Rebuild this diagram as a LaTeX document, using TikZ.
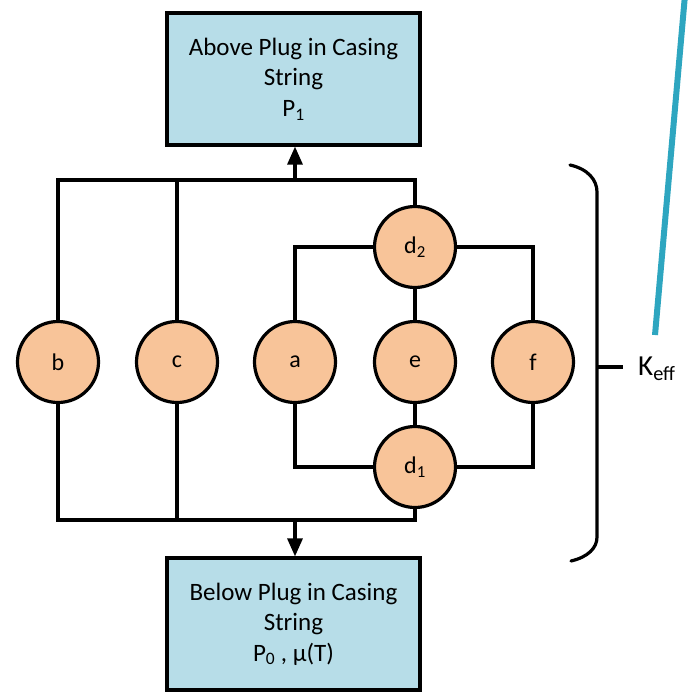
\documentclass[tikz,border=0pt]{standalone}
\usepackage{fontspec}
\setmainfont{Carlito}
\usetikzlibrary{arrows.meta}
\definecolor{boxblue}{HTML}{B7DDE8}
\definecolor{peach}{HTML}{F8C499}
\definecolor{teal1}{HTML}{2EA6C0}
\begin{document}
\begin{tikzpicture}[x=1pt,y=-1pt,
  wire/.style={line width=3.2pt,line join=miter},
  flow/.style={wire,-{Triangle[length=18pt,width=15pt]}},
  plugbox/.style={draw,line width=3.2pt,fill=boxblue,minimum width=253pt,minimum height=132pt,align=center,inner sep=0pt,font=\fontsize{25}{30.5}\selectfont},
  elem/.style={circle,draw,line width=3.2pt,fill=peach,minimum size=81pt,inner sep=0pt,font=\fontsize{24}{28}\selectfont}]
\useasboundingbox (0,0) rectangle (693,693);
% teal stroke
\draw[teal1,line width=6pt] (685,-5) -- (655,335);
% boxes
\node[plugbox] (top) at (293.5,79) {Above Plug in Casing\\String\\P\textsubscript{1}};
\node[plugbox] (bot) at (293.5,624) {Below Plug in Casing\\String\\P\textsubscript{0} , μ(T)};
% circles
\node[elem] (b) at (58,362) {b};
\node[elem] (c) at (177,362) {c};
\node[elem] (a) at (295,362) {a};
\node[elem] (e) at (415,362) {e};
\node[elem] (f) at (533,362) {f};
\node[elem] (d2) at (415,247) {d\textsubscript{2}};
\node[elem] (d1) at (415,467) {d\textsubscript{1}};
% coordinates
\coordinate (tb) at (58,180);
\coordinate (tc) at (177,180);
\coordinate (tm) at (295,180);
\coordinate (td) at (415,180);
\coordinate (bb) at (58,520);
\coordinate (bc) at (177,520);
\coordinate (bm) at (295,520);
\coordinate (bd) at (415,520);
% wiring
\draw[wire] (b.north) -- (tb) -- (td) -- (d2.north);
\draw[wire] (c.north) -- (tc);
\draw[wire] (b.south) -- (bb) -- (bd) -- (d1.south);
\draw[wire] (c.south) -- (bc);
\draw[wire] (a.north) |- (d2.west);
\draw[wire] (f.north) |- (d2.east);
\draw[wire] (a.south) |- (d1.west);
\draw[wire] (f.south) |- (d1.east);
\draw[wire] (d2.south) -- (e.north);
\draw[wire] (e.south) -- (d1.north);
\draw[flow] (tm) -- (tm |- top.south);
\draw[flow] (bm) -- (bm |- bot.north);
% bracket
\coordinate (k1) at (570,165);
\coordinate (k2) at (597,192);
\coordinate (k3) at (597,537);
\coordinate (k4) at (571,561);
\coordinate (km) at (597,367);
\draw[wire,line cap=round] (k1) .. controls (588,169) and (597,180) .. (k2) -- (k3) .. controls (597,548) and (588,557) .. (k4);
\draw[wire] (km) -- ++(26,0) coordinate (kt);
\node[anchor=west,inner sep=0pt,font=\fontsize{29}{32}\selectfont] (keff) at (638,369) {K\textsubscript{eff}};
\end{tikzpicture}
\end{document}
